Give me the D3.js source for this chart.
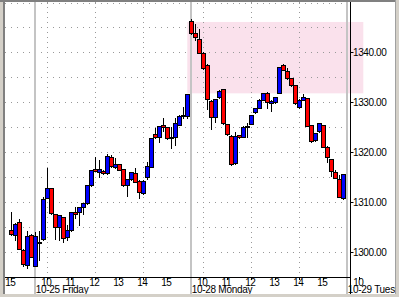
<!DOCTYPE html>
<html lang="en">
<head>
<title>Intraday 10-minute candles</title>
<script src="https://d3js.org/d3.v7.min.js"></script>
<style>
  body { margin: 0; background: #fff; }
  svg { display: block; }
  text { font-family: "Liberation Sans", Arial, sans-serif; font-size: 10px; fill: #000; }
</style>
</head>
<body>
<div id="mainDiv"></div>
<script type="text/javascript">
// trading days shown, first bar is 10-24 15:00, one bar every 10 trading minutes
const days = ['10-24', '10-25', '10-28', '10-29']
const dayLabels = ['', '10-25 Friday', '10-28 Monday', '10-29 Tuesday']
const hourLabels = ['10', '11', '12', '13', '14', '15']
const gridHours = [10, 12, 14]
const priceTicks = [1300, 1310, 1320, 1330, 1340]

const opens = [1304.5, 1303.4, 1306.0, 1300.5, 1297.4, 1303.5, 1297.3, 1302.0, 1302.6, 1310.9,
  1312.8, 1307.6, 1305.1, 1307.0, 1303.1, 1304.4, 1308.0, 1308.0, 1309.0, 1309.8,
  1313.4, 1316.6, 1316.1, 1316.3, 1315.8, 1319.0, 1317.0, 1317.6, 1316.6, 1313.4,
  1314.6, 1315.8, 1314.3, 1311.8, 1315.0, 1317.1, 1323.6, 1323.1, 1325.5, 1325.0,
  1322.9, 1323.0, 1325.5, 1327.3, 1327.3, 1346.2, 1343.8, 1342.6, 1339.9, 1337.5,
  1330.3, 1327.0, 1331.0, 1332.6, 1325.6, 1323.3, 1317.8, 1323.4, 1323.1, 1325.0,
  1325.7, 1328.0, 1328.9, 1330.5, 1331.9, 1329.9, 1330.0, 1331.9, 1337.4, 1336.3,
  1334.8, 1333.4, 1329.0, 1330.5, 1330.8, 1325.4, 1322.4, 1324.2, 1325.4, 1321.1,
  1318.6, 1316.0, 1314.6, 1310.8]
const highs = [1308.0, 1305.8, 1306.6, 1300.6, 1304.3, 1303.7, 1304.1, 1304.2, 1311.1, 1316.8,
  1312.9, 1307.7, 1307.5, 1307.1, 1305.4, 1308.1, 1309.0, 1309.1, 1309.9, 1313.5,
  1316.5, 1319.1, 1318.4, 1316.4, 1319.6, 1319.4, 1318.8, 1317.7, 1316.7, 1314.7,
  1316.1, 1316.8, 1314.4, 1314.4, 1318.1, 1322.9, 1324.8, 1325.3, 1326.8, 1325.1,
  1325.0, 1326.8, 1327.4, 1329.1, 1331.7, 1346.6, 1345.7, 1344.6, 1340.0, 1337.6,
  1330.4, 1330.7, 1332.4, 1332.7, 1325.7, 1323.4, 1324.1, 1323.5, 1325.2, 1325.8,
  1327.5, 1328.9, 1330.6, 1331.9, 1332.0, 1330.4, 1331.1, 1337.1, 1337.7, 1336.8,
  1334.9, 1333.5, 1330.6, 1331.7, 1330.9, 1325.5, 1323.9, 1325.9, 1325.5, 1321.2,
  1318.7, 1316.4, 1315.4, 1315.7]
const lows = [1303.5, 1302.4, 1300.6, 1297.3, 1296.8, 1299.0, 1297.2, 1298.4, 1302.5, 1310.8,
  1307.7, 1302.6, 1302.5, 1302.1, 1302.4, 1304.3, 1306.8, 1305.4, 1307.6, 1309.7,
  1313.3, 1316.2, 1315.0, 1315.7, 1315.7, 1317.1, 1316.9, 1316.5, 1313.3, 1311.3,
  1314.5, 1314.0, 1310.8, 1311.7, 1314.6, 1317.0, 1322.9, 1322.0, 1324.3, 1322.7,
  1320.9, 1321.4, 1325.4, 1326.8, 1326.8, 1343.7, 1342.5, 1339.8, 1336.7, 1328.6,
  1324.6, 1326.1, 1330.9, 1325.7, 1323.5, 1317.5, 1317.6, 1322.9, 1323.0, 1323.1,
  1325.6, 1327.9, 1328.8, 1330.4, 1328.8, 1328.3, 1329.9, 1331.8, 1336.4, 1334.7,
  1333.3, 1329.7, 1328.9, 1330.4, 1325.2, 1322.1, 1322.3, 1324.1, 1321.0, 1318.1,
  1315.2, 1314.8, 1311.0, 1310.7]
const closes = [1303.7, 1305.7, 1300.7, 1297.7, 1303.3, 1299.1, 1303.3, 1302.1, 1310.6, 1312.8,
  1307.8, 1305.1, 1307.4, 1302.9, 1304.5, 1308.0, 1307.7, 1309.0, 1309.8, 1313.4,
  1316.4, 1316.3, 1316.6, 1315.8, 1319.3, 1317.2, 1317.6, 1316.5, 1313.4, 1314.6,
  1316.0, 1314.1, 1312.0, 1314.3, 1317.2, 1322.8, 1323.0, 1325.2, 1325.0, 1322.8,
  1323.1, 1325.8, 1327.3, 1327.4, 1331.6, 1343.8, 1343.1, 1339.9, 1336.8, 1330.6,
  1327.1, 1330.6, 1332.3, 1325.8, 1323.6, 1317.6, 1323.3, 1323.0, 1325.1, 1325.2,
  1327.4, 1328.8, 1330.5, 1331.8, 1330.0, 1330.3, 1331.0, 1337.0, 1336.5, 1334.8,
  1333.4, 1329.8, 1330.5, 1331.0, 1325.3, 1322.2, 1323.8, 1325.8, 1321.1, 1319.0,
  1316.3, 1314.9, 1311.1, 1315.6]

// shaded zone: from bar 44 to bar 88, price 1331.8 .. 1346.1
const zoneBars = [44, 88]
const zonePrices = [1331.8, 1346.1]

const width = 399
const height = 297
const plot = { left: 5, right: 347, top: 2, bottom: 277 }
const axisX = 350.5

// trading minutes since 10-24 09:30, sessions run 09:30 - 16:00
const tradingMinute = (day, hh, mm) => days.indexOf(day) * 390 + hh * 60 + mm - 570
const firstBar = tradingMinute('10-24', 15, 0)
const barMinute = (i) => firstBar + i * 10

const xScale = d3.scaleLinear()
  .domain([firstBar, barMinute(84)])
  .range([11.3, 347.3])
const yScale = d3.scaleLinear()
  .domain([1295, 1350])
  .range([277, 2.5])

const svg = d3.select('#mainDiv').append('svg')
  .attr('width', width)
  .attr('height', height)

// window frame
svg.append('rect').attr('width', width).attr('height', height).attr('fill', '#fff')

// shaded zone
svg.append('rect')
  .attr('x', xScale(barMinute(zoneBars[0])))
  .attr('y', yScale(zonePrices[1]))
  .attr('width', xScale(barMinute(zoneBars[1])) - xScale(barMinute(zoneBars[0])))
  .attr('height', yScale(zonePrices[0]) - yScale(zonePrices[1]))
  .attr('fill', '#fae1ec')

const grid = svg.append('g')

// horizontal dotted grid, every 5 points
grid.selectAll('.hgrid')
  .data(d3.range(1300, 1351, 5))
  .enter()
  .append('line')
  .attr('x1', plot.left).attr('x2', plot.right - 1)
  .attr('y1', d => Math.round(yScale(d)) + 0.5)
  .attr('y2', d => Math.round(yScale(d)) + 0.5)
  .attr('stroke', '#999')
  .attr('stroke-dasharray', '1,5')

// vertical dotted grid at 10, 12, 14
const gridTimes = []
days.slice(1).forEach(day => gridHours.forEach(h => gridTimes.push(tradingMinute(day, h, 0))))
grid.selectAll('.vgrid')
  .data(gridTimes.filter(t => xScale(t) < plot.right))
  .enter()
  .append('line')
  .attr('x1', d => Math.round(xScale(d)) + 0.5)
  .attr('x2', d => Math.round(xScale(d)) + 0.5)
  .attr('y1', plot.top).attr('y2', plot.bottom)
  .attr('stroke', '#999')
  .attr('stroke-dasharray', '1,4')

// day separators
const dayStarts = days.slice(1).map(day => tradingMinute(day, 9, 30))
grid.selectAll('.sep')
  .data(dayStarts)
  .enter()
  .append('line')
  .attr('x1', d => Math.round(xScale(d)))
  .attr('x2', d => Math.round(xScale(d)))
  .attr('y1', plot.top).attr('y2', 294)
  .attr('stroke', '#c4c4c4')
  .attr('stroke-width', 2)

// candles
const bars = opens.map((o, i) => ({ i, o, h: highs[i], l: lows[i], c: closes[i] }))
const candles = svg.append('g')
  .selectAll('g')
  .data(bars)
  .enter()
  .append('g')

candles.append('line')
  .attr('x1', d => Math.round(xScale(barMinute(d.i))) + 0.5)
  .attr('x2', d => Math.round(xScale(barMinute(d.i))) + 0.5)
  .attr('y1', d => Math.round(yScale(d.h)))
  .attr('y2', d => Math.round(yScale(d.l)) + 1)
  .attr('stroke', '#000')

candles.append('rect')
  .attr('x', d => Math.round(xScale(barMinute(d.i))) - 1.5)
  .attr('y', d => Math.round(yScale(Math.max(d.o, d.c))) + 0.5)
  .attr('width', 4)
  .attr('height', d => Math.max(1, Math.round(yScale(Math.min(d.o, d.c))) - Math.round(yScale(Math.max(d.o, d.c)))))
  .attr('fill', d => d.c >= d.o ? '#0000ff' : '#ff0000')
  .attr('stroke', '#000')

// axes
svg.append('line')
  .attr('x1', plot.left).attr('x2', axisX)
  .attr('y1', 277.5).attr('y2', 277.5)
  .attr('stroke', '#000')
svg.append('line')
  .attr('x1', axisX).attr('x2', axisX)
  .attr('y1', plot.top).attr('y2', 295)
  .attr('stroke', '#000')

const yAxis = svg.append('g')
yAxis.selectAll('line')
  .data(priceTicks)
  .enter()
  .append('line')
  .attr('x1', axisX).attr('x2', axisX + 3)
  .attr('y1', d => Math.round(yScale(d)) + 0.5)
  .attr('y2', d => Math.round(yScale(d)) + 0.5)
  .attr('stroke', '#000')
yAxis.selectAll('text')
  .data(priceTicks)
  .enter()
  .append('text')
  .attr('x', axisX + 2.5)
  .attr('y', d => yScale(d) + 4)
  .style('letter-spacing', '-0.4px')
  .text(d => d.toFixed(2))

// hour labels
const hourTicks = [{ t: tradingMinute('10-24', 15, 0), label: '15' }]
days.slice(1).forEach((day, di) => {
  hourLabels.forEach((lab, hi) => {
    if (di < 2 || hi === 0) hourTicks.push({ t: tradingMinute(day, 10 + hi, 0), label: lab })
  })
})
const xAxis = svg.append('g')
xAxis.selectAll('line')
  .data(hourTicks)
  .enter()
  .append('line')
  .attr('x1', d => Math.round(xScale(d.t)) + 0.5)
  .attr('x2', d => Math.round(xScale(d.t)) + 0.5)
  .attr('y1', 277).attr('y2', 280)
  .attr('stroke', '#000')
xAxis.selectAll('.hour')
  .data(hourTicks)
  .enter()
  .append('text')
  .attr('x', d => xScale(d.t) - 1)
  .attr('y', 286)
  .attr('text-anchor', 'middle')
  .style('letter-spacing', '-0.4px')
  .text(d => d.label)
xAxis.selectAll('.day')
  .data(dayStarts)
  .enter()
  .append('text')
  .attr('x', d => xScale(d) + 0.5)
  .attr('y', 293)
  .style('letter-spacing', '-0.3px')
  .text((d, i) => dayLabels[i + 1])

// window frame edges
svg.append('rect').attr('x', 0).attr('y', 0).attr('width', 3).attr('height', height).attr('fill', '#d4d0c8')
svg.append('rect').attr('x', 3).attr('y', 0).attr('width', 2).attr('height', height).attr('fill', '#808080')
svg.append('rect').attr('x', 0).attr('y', 0).attr('width', width).attr('height', 2).attr('fill', '#808080')
svg.append('rect').attr('x', 0).attr('y', 294).attr('width', width).attr('height', 3).attr('fill', '#d4d0c8')
svg.append('rect').attr('x', 396).attr('y', 0).attr('width', 3).attr('height', height).attr('fill', '#d4d0c8')
svg.append('line').attr('x1', 395.5).attr('x2', 395.5).attr('y1', 0).attr('y2', 294).attr('stroke', '#a0a0a0')
</script>
</body>
</html>
